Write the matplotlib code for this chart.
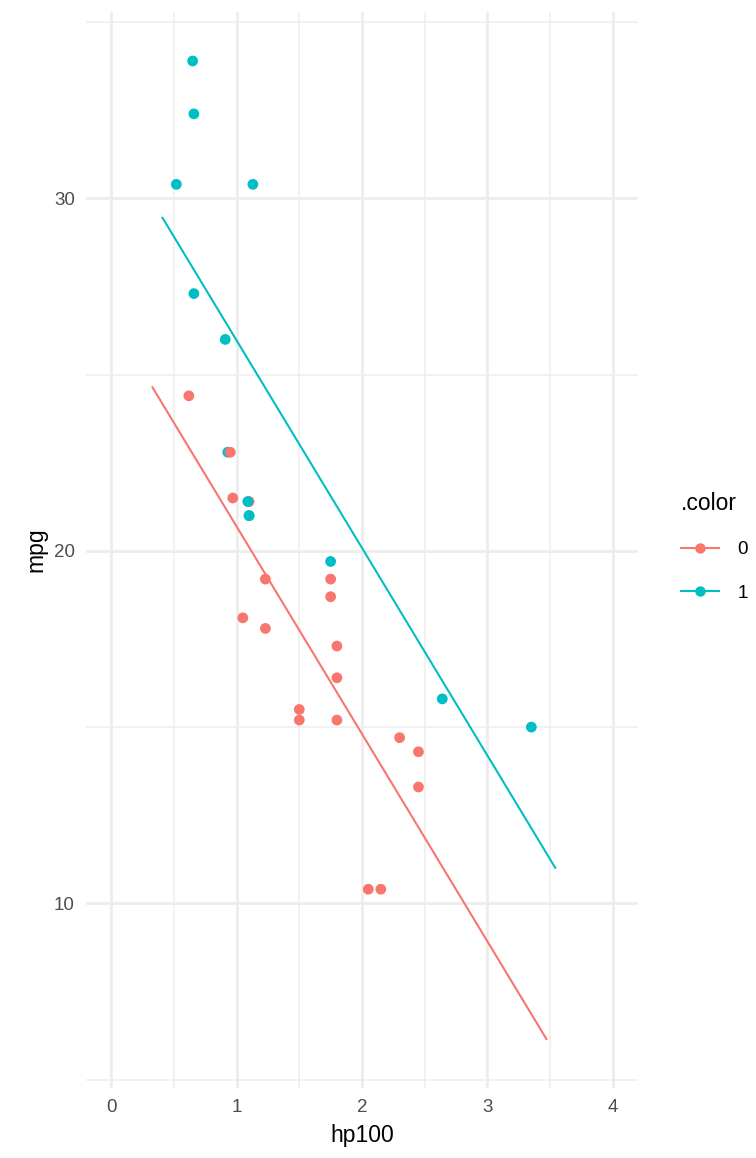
import numpy as np
import matplotlib
matplotlib.use("Agg")
import matplotlib.pyplot as plt
from matplotlib.lines import Line2D

plt.rcParams['font.family'] = ['Liberation Sans', 'DejaVu Sans']

# mtcars: hp/100, mpg, am (row order kept so overlaps draw the same way)
hp100 = [1.10, 1.10, 0.93, 1.10, 1.75, 1.05, 2.45, 0.62, 0.95, 1.23, 1.23, 1.80,
         1.80, 1.80, 2.05, 2.15, 2.30, 0.66, 0.52, 0.65, 0.97, 1.50, 1.50, 2.45,
         1.75, 0.66, 0.91, 1.13, 2.64, 1.75, 3.35, 1.09]
mpg = [21.0, 21.0, 22.8, 21.4, 18.7, 18.1, 14.3, 24.4, 22.8, 19.2, 17.8, 16.4,
       17.3, 15.2, 10.4, 10.4, 14.7, 32.4, 30.4, 33.9, 21.5, 15.5, 15.2, 13.3,
       19.2, 27.3, 26.0, 30.4, 15.8, 19.7, 15.0, 21.4]
am = [1, 1, 1, 0, 0, 0, 0, 0, 0, 0, 0, 0,
      0, 0, 0, 0, 0, 1, 1, 1, 0, 0, 0, 0,
      0, 1, 1, 1, 1, 1, 1, 1]

# fitted lines
fit_x0 = [0.33, 3.47]
fit_y0 = [24.64, 6.15]
fit_x1 = [0.41, 3.54]
fit_y1 = [29.45, 11.01]

groups = ['0', '1']
colors = {0: '#F8766D', 1: '#00BFC4'}

W, H = 756, 1158
fig = plt.figure(figsize=(W / 100, H / 100), dpi=100)
ax = fig.add_axes([86 / W, 1 - 1088 / H, (638 - 86) / W, (1088 - 12) / H])

ax.scatter(hp100, mpg, c=[colors[a] for a in am], s=60, linewidths=0, zorder=3)
ax.plot(fit_x0, fit_y0, color=colors[0], lw=1.5, zorder=4)
ax.plot(fit_x1, fit_y1, color=colors[1], lw=1.5, zorder=4)

ax.set_xlim(-0.2, 4.2)
ax.set_ylim(4.76, 35.29)
ax.set_xticks([0, 1, 2, 3, 4])
ax.set_xticks([0.5, 1.5, 2.5, 3.5], minor=True)
ax.set_yticks([10, 20, 30])
ax.set_yticks([5, 15, 25, 35], minor=True)
ax.grid(which='major', color='#EDEDED', lw=2.0, zorder=0)
ax.grid(which='minor', color='#EDEDED', lw=1.1, zorder=0)
ax.set_axisbelow(True)
for s in ax.spines.values():
    s.set_visible(False)
ax.tick_params(which='both', length=0, labelsize=13.5, labelcolor='#4D4D4D')
ax.tick_params(axis='y', pad=8)
ax.tick_params(axis='x', pad=8)
ax.set_xlabel('hp100', fontsize=16.5, labelpad=6)
ax.set_ylabel('mpg', fontsize=16.5, labelpad=5)

handles = [Line2D([], [], color=colors[i], lw=1.5, marker='o', markersize=7.5,
                  markeredgewidth=0) for i in (0, 1)]
leg = fig.legend(handles, groups, title='.color', loc='upper left',
                 bbox_to_anchor=(681 / W, 1 - 492 / H), frameon=False,
                 fontsize=13.5, title_fontsize=16.5, handlelength=2.0,
                 handletextpad=1.0, labelspacing=1.4, borderpad=0,
                 borderaxespad=0)
leg._legend_box.align = 'left'

fig.savefig('out.png', dpi=100)
